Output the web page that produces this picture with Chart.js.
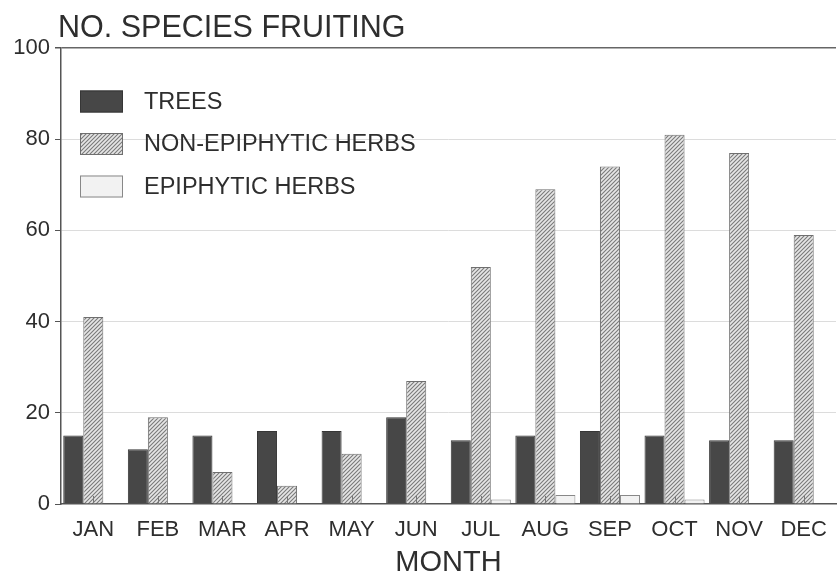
<!DOCTYPE html>
<html>
<head>
<meta charset="utf-8">
<script src="https://cdn.jsdelivr.net/npm/chart.js@4.4.1/dist/chart.umd.min.js"></script>
<style>
  html, body { margin: 0; padding: 0; background: #fff; }
  #wrap { width: 838px; height: 576px; }
</style>
</head>
<body>
<div id="wrap"><canvas id="fruitChart" width="838" height="576"></canvas></div>
<script>
const months = ['JAN', 'FEB', 'MAR', 'APR', 'MAY', 'JUN', 'JUL', 'AUG', 'SEP', 'OCT', 'NOV', 'DEC'];
const trees = [15, 12, 15, 16, 16, 19, 14, 15, 16, 15, 14, 14];
const nonEpiphyticHerbs = [41, 19, 7, 4, 11, 27, 52, 69, 74, 81, 77, 59];
const epiphyticHerbs = [0, 0, 0, 0, 0, 0, 1, 2, 2, 1, 0, 0];
const yTicks = [0, 20, 40, 60, 80, 100];

const FONT = "'Liberation Sans', Arial, sans-serif";
const INK = '#2e2e2e';

function hatchPattern() {
  const c = document.createElement('canvas');
  c.width = 4; c.height = 4;
  const g = c.getContext('2d');
  g.fillStyle = '#e6e6e6';
  g.fillRect(0, 0, 4, 4);
  g.strokeStyle = '#7a7a7a';
  g.lineWidth = 1.1;
  g.beginPath();
  g.moveTo(-1, 5); g.lineTo(5, -1);
  g.moveTo(-1, 1); g.lineTo(1, -1);
  g.moveTo(3, 5); g.lineTo(5, 3);
  g.stroke();
  return g.createPattern(c, 'repeat');
}

const ctx = document.getElementById('fruitChart').getContext('2d');
const hatch = hatchPattern();

// title, inside legend and little inward x ticks
const decorations = {
  id: 'decorations',
  afterDraw(chart) {
    const c = chart.ctx;
    const area = chart.chartArea;
    c.save();
    c.fillStyle = INK;
    c.font = '30.5px ' + FONT;
    c.textBaseline = 'alphabetic';
    c.textAlign = 'left';
    c.fillText('NO. SPECIES FRUITING', 58, 37);

    // x ticks pointing up into the plot
    const xs = chart.scales.x;
    c.strokeStyle = '#777';
    c.lineWidth = 1;
    xs.ticks.forEach((t, i) => {
      const px = Math.round(xs.getPixelForTick(i)) + 0.5;
      c.beginPath();
      c.moveTo(px, area.bottom);
      c.lineTo(px, area.bottom - 8);
      c.stroke();
    });

    // legend
    c.font = '23.5px ' + FONT;
    c.textBaseline = 'middle';
    chart.data.datasets.forEach((ds, i) => {
      const y = 101.5 + i * 42.5;
      c.fillStyle = ds.backgroundColor;
      c.fillRect(80, y - 11, 43, 22);
      c.strokeStyle = ds.borderColor;
      c.lineWidth = 1;
      c.strokeRect(80.5, y - 10.5, 42, 21);
      c.fillStyle = INK;
      c.fillText(ds.label, 144, y + 1);
    });
    c.restore();
  }
};

new Chart(ctx, {
  type: 'bar',
  data: {
    labels: months,
    datasets: [
      {
        label: 'TREES',
        data: trees,
        backgroundColor: '#474747',
        borderColor: '#363636',
        borderWidth: 1
      },
      {
        label: 'NON-EPIPHYTIC HERBS',
        data: nonEpiphyticHerbs,
        backgroundColor: hatch,
        borderColor: '#6f6f6f',
        borderWidth: 1
      },
      {
        label: 'EPIPHYTIC HERBS',
        data: epiphyticHerbs,
        backgroundColor: '#f2f2f2',
        borderColor: '#888',
        borderWidth: 1
      }
    ]
  },
  options: {
    responsive: false,
    animation: false,
    layout: { padding: { top: 48, right: 2, left: 0, bottom: 0 } },
    plugins: {
      legend: { display: false },
      tooltip: { enabled: false }
    },
    datasets: {
      bar: { categoryPercentage: 0.93, barPercentage: 1.0 }
    },
    scales: {
      x: {
        afterFit: s => { s.height = 72; },
        grid: { display: false },
        border: { color: '#555', width: 1.5 },
        ticks: {
          color: INK,
          font: { family: FONT, size: 22 },
          padding: 5,
          autoSkip: false,
          maxRotation: 0
        },
        title: {
          display: true,
          text: 'MONTH',
          color: INK,
          font: { family: FONT, size: 29, lineHeight: 0.9 },
          padding: { top: 0, bottom: 0 }
        }
      },
      y: {
        min: 0,
        max: 100,
        afterBuildTicks: s => { s.ticks = yTicks.map(v => ({ value: v })); },
        afterFit: s => { s.width = 61; },
        border: { color: '#555', width: 1.5 },
        grid: {
          color: c => c.tick.value === 100 ? '#666' : (c.tick.value === 0 ? 'rgba(0,0,0,0)' : '#dcdcdc'),
          tickColor: '#555',
          tickLength: 6,
          lineWidth: c => c.tick.value === 100 ? 1.5 : 1
        },
        ticks: {
          color: INK,
          font: { family: FONT, size: 22 },
          padding: 5
        }
      }
    }
  },
  plugins: [decorations]
});
</script>
</body>
</html>
